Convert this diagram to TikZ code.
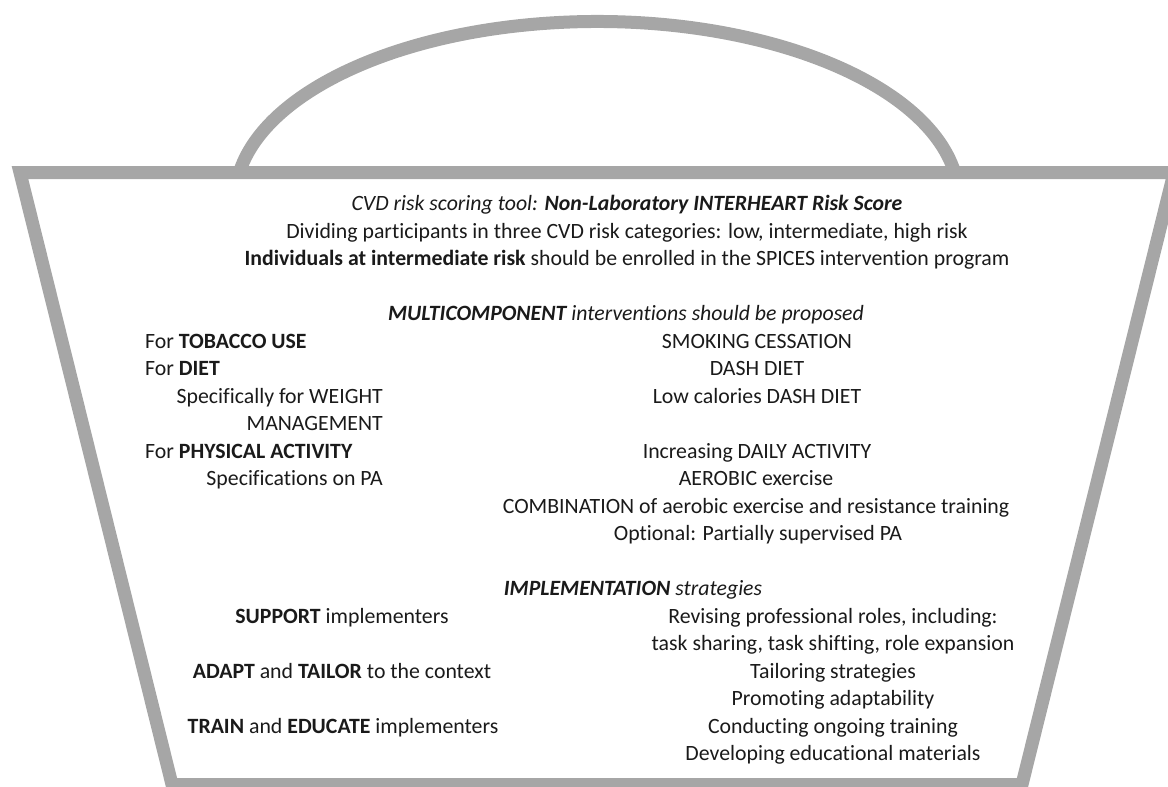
\documentclass[tikz,border=0pt]{standalone}
\usepackage{fontspec}
\setmainfont{Carlito}[Ligatures={NoCommon}]
\definecolor{basketgray}{HTML}{A6A6A6}
\definecolor{txt}{HTML}{1A1A1A}
\begin{document}
\begin{tikzpicture}[x=1pt,y=-1pt,
  basket/.style={draw=basketgray,line width=13pt,line join=miter},
  txtline/.style={inner sep=0pt,anchor=base,text=txt,font=\fontsize{21.8}{25}\selectfont},
  lft/.style={txtline,anchor=base west},
  rgt/.style={txtline,anchor=base east}]
\useasboundingbox (0,0) rectangle (1168,787);
\clip (0,0) rectangle (1168,787);
% basket body and handle
\draw[basket] (20,172.5) -- (1174,172.5) -- (1022,784.5) -- (172,784.5) -- cycle;
\draw[basket] (954.7,172.5) arc[start angle=8.86,end angle=171.14,x radius=362pt,y radius=178.5pt];
% risk scoring block
\node[txtline] (t0) at (627,210.7) {\itshape CVD risk scoring tool: \bfseries Non-Laboratory INTERHEART Risk Score};
\node[txtline] (t1) at (627,238.2) {Dividing participants in three CVD risk categories: low, intermediate, high risk};
\node[txtline] (t2) at (627,265.7) {\textbf{Individuals at intermediate risk} should be enrolled in the SPICES intervention program};
% multicomponent interventions
\node[txtline] (m0) at (626,320.7) {\itshape\textbf{MULTICOMPONENT} interventions should be proposed};
\node[lft] (l5) at (145,348.2) {For \textbf{TOBACCO USE}};
\node[lft] (l6) at (145,375.7) {For \textbf{DIET}};
\node[rgt] (l7) at (383,403.2) {Specifically for WEIGHT};
\node[rgt] (l8) at (383,430.7) {MANAGEMENT};
\node[lft] (l9) at (145,458.2) {For \textbf{PHYSICAL ACTIVITY}};
\node[rgt] (l10) at (383,485.7) {Specifications on PA};
\node[txtline] (r5) at (757,348.2) {SMOKING CESSATION};
\node[txtline] (r6) at (757,375.7) {DASH DIET};
\node[txtline] (r7) at (757,403.2) {Low calories DASH DIET};
\node[txtline] (r9) at (757,458.2) {Increasing DAILY ACTIVITY};
\node[txtline] (r10) at (756,485.7) {AEROBIC exercise};
\node[txtline] (r11) at (756,513.2) {COMBINATION of aerobic exercise and resistance training};
\node[txtline] (r12) at (758,540.7) {Optional: Partially supervised PA};
% implementation strategies
\node[txtline] (i0) at (633,595.7) {\itshape\textbf{IMPLEMENTATION} strategies};
\node[txtline] (i1) at (342,623.2) {\textbf{SUPPORT} implementers};
\node[txtline] (i3) at (342,678.2) {\textbf{ADAPT} and \textbf{TAILOR} to the context};
\node[txtline] (i5) at (343,733.2) {\textbf{TRAIN} and \textbf{EDUCATE} implementers};
\node[txtline] (s1) at (833,623.2) {Revising professional roles, including:};
\node[txtline] (s2) at (833,650.7) {task sharing, task shifting, role expansion};
\node[txtline] (s3) at (833,678.2) {Tailoring strategies};
\node[txtline] (s4) at (833,705.7) {Promoting adaptability};
\node[txtline] (s5) at (833,733.2) {Conducting ongoing training};
\node[txtline] (s6) at (833,760.7) {Developing educational materials};
\end{tikzpicture}
\end{document}
